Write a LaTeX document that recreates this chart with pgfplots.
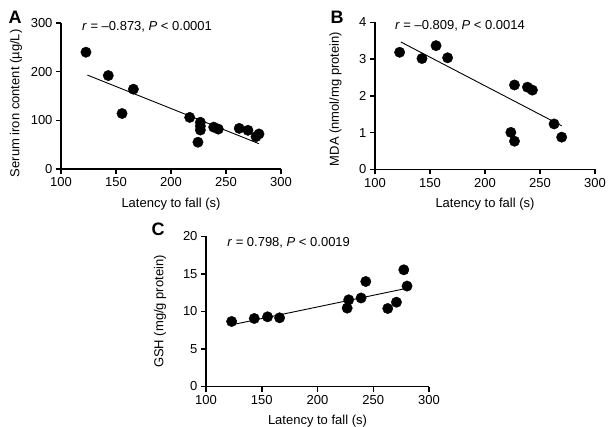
\documentclass[border=0pt]{standalone}
\usepackage{fontspec}
\setmainfont{Liberation Sans}
\usepackage{pgfplots}
\pgfplotsset{compat=1.18}

\pgfplotsset{
  prism/.style={
    scale only axis,
    anchor=south west,
    axis x line*=bottom,
    axis y line*=left,
    axis line style={line width=1.5pt},
    tick align=outside,
    major tick length=5pt,
    tick style={line width=1.5pt, black},
    xmin=100, xmax=300,
    xtick={100,150,200,250,300},
    /pgf/number format/assume math mode=true,
    ticklabel style={font=\fontsize{13}{15}\selectfont},
    label style={font=\fontsize{13}{15}\selectfont},
    xlabel={Latency to fall (s)},
    xlabel style={at={(axis description cs:0.5,0)}, anchor=center, yshift=-35pt},
    clip=false,
  },
  dots/.style={only marks, mark=*, mark size=5.2pt, black},
  fit/.style={black, line width=0.9pt, no marks},
}

\begin{document}
\begin{tikzpicture}
\path[use as bounding box] (0,0) rectangle (608pt,-427pt);

% A
\begin{axis}[prism, at={(61pt,-169pt)}, width=220pt, height=146pt,
  ymin=0, ymax=300, ytick={0,100,200,300},
  ylabel={Serum iron content (µg/L)},
  ylabel style={at={(axis description cs:-0.205,0.45)}, anchor=center, rotate=0}]
\addplot[dots] coordinates {
  (122.7,240) (143,192) (155.5,114) (165.8,164) (217,106) (224.5,55)
  (226.7,96) (226.7,88) (226.7,80) (238.8,86) (243,82) (262,83.5)
  (270,79.5) (277.3,66.5) (280,72)
};
\addplot[fit] coordinates {(124,193) (280,52)};
\node[anchor=west, font=\fontsize{13}{15}\selectfont] at (axis cs:116,292) {\textit{r} = –0.873, \textit{P} < 0.0001};
\end{axis}

% B
\begin{axis}[prism, at={(375pt,-169.5pt)}, width=220pt, height=147pt,
  ymin=0, ymax=4, ytick={0,1,2,3,4},
  ylabel={MDA (nmol/mg protein)},
  ylabel style={at={(axis description cs:-0.18,0.48)}, anchor=center, rotate=0}]
\addplot[dots] coordinates {
  (122.4,3.19) (142.7,3.02) (155.5,3.37) (166,3.04) (226.8,2.30)
  (238.6,2.24) (243.1,2.16) (223.5,1.01) (226.8,0.77) (262.8,1.24)
  (269.7,0.88)
};
\addplot[fit] coordinates {(123.5,3.47) (269.7,1.19)};
\node[anchor=west, font=\fontsize{13}{15}\selectfont] at (axis cs:115,3.91) {\textit{r} = –0.809, \textit{P} < 0.0014};
\end{axis}

% C
\begin{axis}[prism, at={(206pt,-386.5pt)}, width=223pt, height=150pt,
  ymin=0, ymax=20, ytick={0,5,10,15,20},
  ylabel={GSH (mg/g protein)},
  ylabel style={at={(axis description cs:-0.206,0.5)}, anchor=center, rotate=0}]
\addplot[dots] coordinates {
  (123,8.67) (143.3,9.07) (155.2,9.29) (166,9.16) (226.6,10.45)
  (228,11.56) (239.1,11.8) (243.3,14.0) (263,10.4) (270.8,11.24)
  (277.4,15.56) (280.3,13.39)
};
\addplot[fit] coordinates {(123,8.22) (280.3,13.1)};
\node[anchor=west, font=\fontsize{13}{15}\selectfont] at (axis cs:116,19.1) {\textit{r} = 0.798, \textit{P} < 0.0019};
\end{axis}

\node[font=\fontsize{18}{20}\selectfont\bfseries] at (15pt,-17pt) {A};
\node[font=\fontsize{18}{20}\selectfont\bfseries] at (337pt,-17pt) {B};
\node[font=\fontsize{18}{20}\selectfont\bfseries] at (158pt,-229pt) {C};
\end{tikzpicture}
\end{document}
